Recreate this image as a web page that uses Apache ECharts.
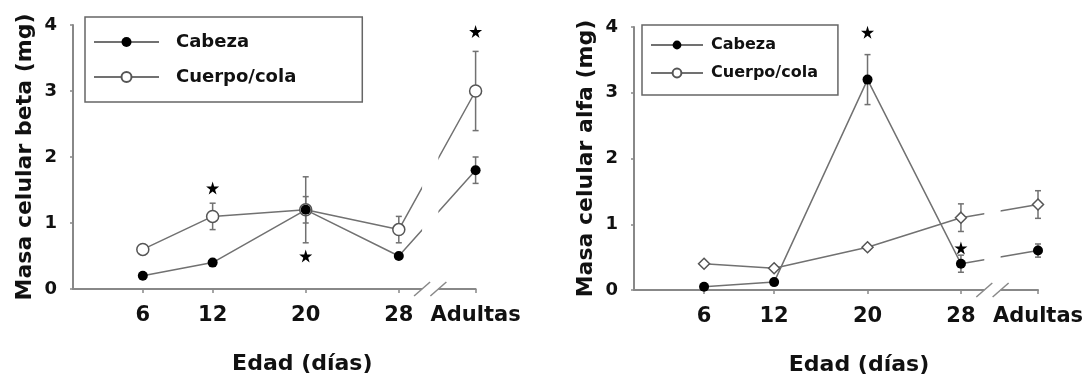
<!DOCTYPE html>
<html><head><meta charset="utf-8">
<script src="https://cdn.jsdelivr.net/npm/echarts@6/dist/echarts.min.js"></script>
<style>html,body{margin:0;padding:0;background:#fff}#c{width:1084px;height:381px}</style>
</head><body><div id="c"></div>
<script>
// ---------- data ----------
const days = [6, 12, 20, 28];
const adultX = 34.6;                       // position of the "Adultas" category on the broken axis
const xLabels = ['6', '12', '20', '28', 'Adultas'];
const yTicks = [0, 1, 2, 3, 4];
const seriesNames = ['Cabeza', 'Cuerpo/cola'];
const xTitle = 'Edad (días)';
const yTitleBeta = 'Masa celular beta (mg)';
const yTitleAlfa = 'Masa celular alfa (mg)';

// Panel 1: beta cell mass
const betaCabeza    = [0.2, 0.4, 1.2, 0.5, 1.8];
const betaCabezaErr = [0,   0,   0.5, 0,   0.2];
const betaCuerpo    = [0.6, 1.1, 1.2, 0.9, 3.0];
const betaCuerpoErr = [0,   0.2, 0.2, 0.2, 0.6];
const betaStars     = [[12, 1.53], [20, 0.5], [34.6, 3.9]];

// Panel 2: alpha cell mass
const alfaCabeza    = [0.05, 0.12, 3.2,  0.4,  0.6];
const alfaCabezaErr = [0,    0,    0.38, 0.13, 0.1];
const alfaCuerpo    = [0.4,  0.33, 0.65, 1.1,  1.3];
const alfaCuerpoErr = [0,    0,    0.04, 0.21, 0.21];
const alfaStars     = [[20, 3.92], [28, 0.64]];

const breakFrom = 30.0, breakTo = 31.4;   // axis break between 28 and Adultas

// ---------- helpers ----------
const FONT = 'DejaVu Sans';
const AX = '#888';
const LINE = '#717171';
const xPos = days.concat([adultX]);
const pts = vals => vals.map((v, i) => [xPos[i], v]);
const errPts = (vals, errs) => vals.map((v, i) => [xPos[i], v, errs[i]]);
const starPath = 'path://M50,0 L61,35 L98,35 L68,57 L79,91 L50,70 L21,91 L32,57 L2,35 L39,35 Z';

function labelFor(v) {
  for (let i = 0; i < xPos.length; i++) if (Math.abs(xPos[i] - v) < 1e-6) return xLabels[i];
  return '';
}

function errRender(params, api) {
  const x = api.value(0), y = api.value(1), e = api.value(2);
  if (!e) return null;
  const t = api.coord([x, y + e]), b = api.coord([x, y - e]);
  const cw = 3, st = { stroke: LINE, lineWidth: 1.5 };
  return { type: 'group', children: [
    { type: 'line', shape: { x1: t[0], y1: t[1], x2: b[0], y2: b[1] }, style: st },
    { type: 'line', shape: { x1: t[0] - cw, y1: t[1], x2: t[0] + cw, y2: t[1] }, style: st },
    { type: 'line', shape: { x1: b[0] - cw, y1: b[1], x2: b[0] + cw, y2: b[1] }, style: st }
  ]};
}

function breakRender(params, api) {
  const a = api.value(0), b = api.value(1);
  const pa = api.coord([a, 0]), pb = api.coord([b, 0]);
  const top = api.coord([a, 4])[1];
  const st = { stroke: AX, lineWidth: 1.5 };
  return { type: 'group', children: [
    { type: 'rect', shape: { x: pa[0], y: top, width: pb[0] - pa[0], height: pa[1] - top + 4 }, style: { fill: '#fff' } },
    { type: 'line', shape: { x1: pa[0] - 8, y1: pa[1] + 7, x2: pa[0] + 8, y2: pa[1] - 7 }, style: st },
    { type: 'line', shape: { x1: pb[0] - 8, y1: pb[1] + 7, x2: pb[0] + 8, y2: pb[1] - 7 }, style: st }
  ]};
}

function xAxisFor(gi, namePad) {
  return {
    gridIndex: gi, type: 'value', min: 0, max: adultX,
    axisLine: { lineStyle: { color: AX, width: 2 } },
    axisTick: { customValues: xPos, length: 4, lineStyle: { color: AX, width: 1.5 } },
    axisLabel: { customValues: xPos, formatter: labelFor, fontFamily: FONT, fontWeight: 'bold', fontSize: 21, color: '#111', margin: 16 },
    splitLine: { show: false },
    name: xTitle, nameLocation: 'middle', nameGap: 64,
    nameTextStyle: { fontFamily: FONT, fontWeight: 'bold', fontSize: 22, color: '#111', padding: [0, 0, 0, namePad] }
  };
}
function yAxisFor(gi, title) {
  return {
    gridIndex: gi, type: 'value', min: yTicks[0], max: yTicks[yTicks.length - 1], interval: 1,
    axisLine: { show: true, lineStyle: { color: AX, width: 2 } },
    axisTick: { show: true, length: 3, lineStyle: { color: AX, width: 1.5 } },
    axisLabel: { fontFamily: FONT, fontWeight: 'bold', fontSize: 18, color: '#111', margin: 16 },
    splitLine: { show: false },
    name: title, nameLocation: 'middle', nameGap: 37, nameRotate: 90,
    nameTextStyle: { fontFamily: FONT, fontWeight: 'bold', fontSize: 22, color: '#111' }
  };
}

function panelSeries(gi, cab, cabErr, cue, cueErr, stars, openSym, openSize, fillSize) {
  return [
    { type: 'custom', name: 'err-cab', xAxisIndex: gi, yAxisIndex: gi, z: 1, renderItem: errRender, data: errPts(cab, cabErr), silent: true },
    { type: 'custom', name: 'err-cue', xAxisIndex: gi, yAxisIndex: gi, z: 1, renderItem: errRender, data: errPts(cue, cueErr), silent: true },
    { type: 'line', name: seriesNames[1], xAxisIndex: gi, yAxisIndex: gi, z: 3, data: pts(cue),
      symbol: openSym, symbolSize: openSize, showAllSymbol: true,
      lineStyle: { color: LINE, width: 1.5 },
      itemStyle: { color: '#fff', borderColor: '#555', borderWidth: 1.5 } },
    { type: 'line', name: seriesNames[0], xAxisIndex: gi, yAxisIndex: gi, z: 3, data: pts(cab),
      symbol: 'circle', symbolSize: fillSize, showAllSymbol: true,
      lineStyle: { color: LINE, width: 1.5 },
      itemStyle: { color: '#000', borderColor: '#000', borderWidth: 0 } },
    { type: 'custom', name: 'break', xAxisIndex: gi, yAxisIndex: gi, z: 10, renderItem: breakRender, data: [[breakFrom, breakTo]], silent: true },
    { type: 'scatter', name: 'sig', xAxisIndex: gi, yAxisIndex: gi, z: 11, symbol: starPath, symbolSize: 13,
      itemStyle: { color: '#000', opacity: 1 }, data: stars, silent: true }
  ];
}

const chart = echarts.init(document.getElementById('c'), null, { renderer: 'canvas' });
chart.setOption({
  animation: false,
  backgroundColor: '#fff',
  grid: [
    { left: 73, top: 25, width: 402.6, height: 264, outerBoundsMode: 'none' },
    { left: 634, top: 27, width: 404, height: 263, outerBoundsMode: 'none' }
  ],
  xAxis: [xAxisFor(0, 56), xAxisFor(1, 46)],
  yAxis: [yAxisFor(0, yTitleBeta), yAxisFor(1, yTitleAlfa)],
  legend: [
    { orient: 'vertical', left: 85, top: 17, data: seriesNames, selectedMode: false,
      itemWidth: 65, itemHeight: 12.5, itemGap: 15, padding: [15, 66, 15, 8],
      borderColor: '#666', borderWidth: 1.5,
      textStyle: { fontFamily: FONT, fontWeight: 'bold', fontSize: 18, lineHeight: 20, color: '#111', padding: [0, 0, 0, 12] } },
    { orient: 'vertical', left: 642, top: 25, data: seriesNames, selectedMode: false,
      itemWidth: 52, itemHeight: 11, itemGap: 10, padding: [11, 20, 13, 8],
      borderColor: '#666', borderWidth: 1.5,
      textStyle: { fontFamily: FONT, fontWeight: 'bold', fontSize: 16, lineHeight: 18, color: '#111', padding: [0, 0, 0, 3] } }
  ],
  series: [].concat(
    panelSeries(0, betaCabeza, betaCabezaErr, betaCuerpo, betaCuerpoErr, betaStars, 'circle', 12, 10),
    panelSeries(1, alfaCabeza, alfaCabezaErr, alfaCuerpo, alfaCuerpoErr, alfaStars, 'diamond', 11, 10)
  )
});
</script>
</body></html>
